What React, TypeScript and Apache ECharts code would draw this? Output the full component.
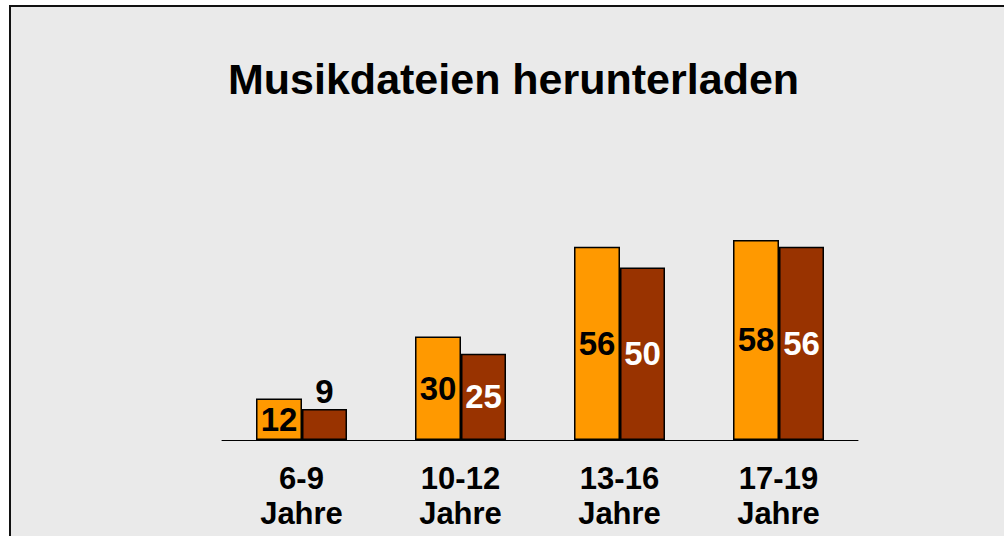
import React, { useEffect, useRef } from "react";
import * as echarts from "echarts";

const categories = ["6-9\nJahre", "10-12\nJahre", "13-16\nJahre", "17-19\nJahre"];
const seriesA = [12, 30, 56, 58];
const seriesB = [9, 25, 50, 56];
const titleText = "Musikdateien herunterladen";

const FONT = "'Liberation Sans', Arial, sans-serif";

export default function App() {
  const ref = useRef<HTMLDivElement>(null);
  useEffect(() => {
    if (!ref.current) return;
    const chart = echarts.init(ref.current, null, { renderer: "svg" });
    chart.setOption({
      animation: false,
      backgroundColor: "transparent",
      textStyle: { fontFamily: FONT },
      title: {
        text: titleText,
        left: 223,
        top: 49,
        textStyle: { fontSize: 43, fontWeight: "bold", color: "#000", fontFamily: FONT, lineHeight: 50 },
      },
      grid: { left: 222, right: 146, top: 95, bottom: 96 },
      xAxis: {
        type: "category",
        data: categories,
        axisLine: { lineStyle: { color: "#000", width: 1 } },
        axisTick: { show: false },
        axisLabel: {
          fontSize: 31,
          fontWeight: "bold",
          color: "#000",
          fontFamily: FONT,
          lineHeight: 35,
          margin: 21,
        },
      },
      yAxis: {
        type: "value",
        min: 0,
        max: 100,
        show: false,
        splitLine: { show: false },
      },
      series: [
        {
          type: "bar",
          data: seriesA,
          barWidth: 46,
          barGap: "0%",
          itemStyle: { color: "#FF9900", borderColor: "#000", borderWidth: 1.5 },
          label: {
            show: true,
            position: "inside",
            color: "#000",
            fontSize: 33,
            fontWeight: "bold",
            fontFamily: FONT,
          },
        },
        {
          type: "bar",
          data: seriesB.map((v, i) =>
            i === 0
              ? { value: v, label: { position: "top", color: "#000", distance: 1 } }
              : v
          ),
          barWidth: 45,
          barGap: "0%",
          itemStyle: { color: "#993300", borderColor: "#000", borderWidth: 1.5 },
          label: {
            show: true,
            position: "inside",
            color: "#fff",
            fontSize: 33,
            fontWeight: "bold",
            fontFamily: FONT,
          },
        },
      ],
    });
    return () => chart.dispose();
  }, []);

  return (
    <div style={{ position: "fixed", left: 0, top: 0, width: 1004, height: 536, overflow: "hidden", background: "#fff" }}>
      <div
        style={{
          position: "absolute",
          left: 9,
          top: 5,
          width: 1010,
          height: 545,
          boxSizing: "border-box",
          border: "2px solid #111",
          background: "#EAEAEA",
        }}
      />
      <div ref={ref} style={{ position: "absolute", left: 0, top: 0, width: 1004, height: 536 }} />
    </div>
  );
}
